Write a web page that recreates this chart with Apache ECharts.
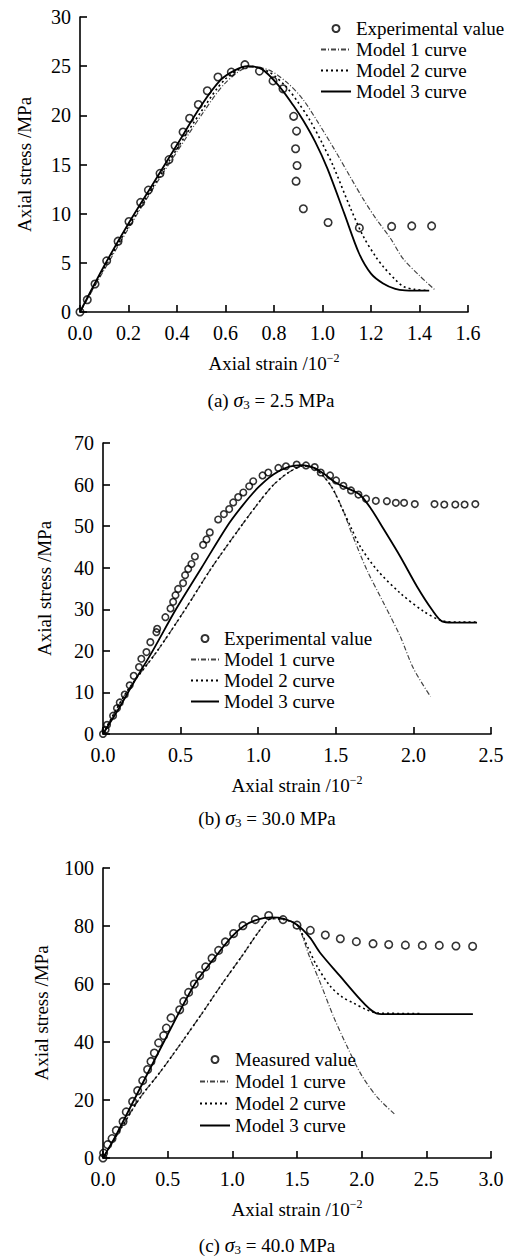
<!DOCTYPE html>
<html>
<head>
<meta charset="utf-8">
<script src="https://cdn.jsdelivr.net/npm/echarts@6/dist/echarts.min.js"></script>
<style>
  html, body { margin: 0; padding: 0; background: #fff; }
  #main { width: 512px; height: 1258px; }
</style>
</head>
<body>
<div id="main"></div>
<script>
// ---- (a) sigma3 = 2.5 MPa ----
const aExpX = [0, 0.03, 0.062, 0.11, 0.157, 0.202, 0.25, 0.282, 0.33, 0.367, 0.392, 0.425, 0.452, 0.488, 0.525, 0.569, 0.624, 0.68, 0.74, 0.796, 0.837, 0.881, 0.893, 0.889, 0.895, 0.891, 0.921, 1.023, 1.152, 1.285, 1.368, 1.45]
const aExpY = [0, 1.25, 2.85, 5.2, 7.2, 9.2, 11.15, 12.4, 14.1, 15.5, 16.9, 18.3, 19.7, 21.1, 22.5, 23.9, 24.4, 25.15, 24.5, 23.5, 22.7, 19.9, 18.4, 16.6, 14.9, 13.3, 10.5, 9.1, 8.55, 8.7, 8.75, 8.75]
const aM1X = [0, 0.1, 0.2, 0.3, 0.4, 0.5, 0.6, 0.7, 0.78, 0.86, 0.92, 0.976, 1.05, 1.113, 1.17, 1.223, 1.28, 1.333, 1.4, 1.464]
const aM1Y = [0, 4.3, 8.5, 12.5, 16.3, 20.0, 23.3, 24.9, 24.6, 23.2, 21.6, 19.5, 16.5, 13.8, 11.4, 9.4, 7.5, 5.4, 3.7, 2.24]
const aM2X = [0, 0.1, 0.2, 0.3, 0.4, 0.5, 0.6, 0.7, 0.78, 0.85, 0.9, 0.948, 1.0, 1.045, 1.113, 1.168, 1.22, 1.251, 1.3, 1.333, 1.38, 1.43]
const aM2Y = [0, 4.5, 8.7, 12.7, 16.6, 20.4, 23.7, 25.0, 24.4, 22.9, 21.3, 19.5, 17.1, 14.8, 10.7, 7.7, 5.6, 4.6, 3.3, 2.6, 2.3, 2.2]
const aM3X = [0, 0.1, 0.2, 0.3, 0.4, 0.5, 0.58, 0.64, 0.69, 0.75, 0.82, 0.88, 0.92, 0.97, 1.02, 1.09, 1.15, 1.2, 1.25, 1.3, 1.34, 1.44]
const aM3Y = [0, 4.7, 9.0, 13.0, 17.0, 21.0, 23.6, 24.6, 25.0, 24.7, 23.0, 21.0, 19.5, 17.3, 14.6, 10.0, 6.0, 3.9, 2.9, 2.35, 2.2, 2.17]

// ---- (b) sigma3 = 30.0 MPa ----
const bExpX = [0, 0.017, 0.026, 0.065, 0.09, 0.108, 0.14, 0.172, 0.198, 0.232, 0.247, 0.28, 0.305, 0.344, 0.349, 0.402, 0.435, 0.452, 0.467, 0.484, 0.516, 0.529, 0.549, 0.57, 0.592, 0.645, 0.667, 0.688, 0.742, 0.779, 0.813, 0.839, 0.871, 0.904, 0.942, 0.968, 1.028, 1.065, 1.13, 1.179, 1.248, 1.308, 1.364, 1.403, 1.463, 1.502, 1.549, 1.598, 1.646, 1.695, 1.758, 1.829, 1.887, 1.94, 2.009, 2.136, 2.199, 2.27, 2.33, 2.399]
const bExpY = [0, 1, 2.2, 4.4, 6.2, 7.6, 9.5, 11.7, 14, 16.1, 18.1, 19.7, 22.1, 24.5, 25.3, 28.1, 30.2, 31.8, 33.4, 34.9, 36.3, 38.2, 39.7, 40.9, 42.7, 45.5, 46.8, 48.5, 51.6, 52.9, 54.1, 55.7, 57, 58.1, 59.6, 60.8, 62.2, 62.9, 64, 64.4, 64.8, 64.6, 64.2, 62.9, 62.2, 61, 59.7, 58.6, 57.6, 56.6, 56.1, 56, 55.6, 55.6, 55.3, 55.3, 55.2, 55.2, 55.2, 55.3]
const bM1X = [0, 0.15, 0.35, 0.53, 0.70, 0.89, 1.0, 1.10, 1.2, 1.29, 1.35, 1.42, 1.48, 1.55, 1.6, 1.7, 1.808, 1.915, 2.0, 2.11]
const bM1Y = [0, 10, 20, 30, 40, 50, 55.5, 60, 63, 64.5, 64.2, 62.0, 59.0, 53.5, 48.5, 39.5, 31.5, 23.5, 15.8, 9.0]
const bM2X = [0, 0.15, 0.35, 0.53, 0.70, 0.89, 1.0, 1.10, 1.2, 1.29, 1.35, 1.42, 1.48, 1.55, 1.6, 1.657, 1.765, 1.915, 2.066, 2.18, 2.3, 2.41]
const bM2Y = [0, 10, 20, 30, 40, 50, 55.5, 60, 63, 64.5, 64.2, 62.0, 59.0, 53.5, 49.5, 45.1, 39.5, 33.9, 29.5, 27.3, 26.9, 26.9]
const bM3X = [0, 0.1, 0.2, 0.32, 0.47, 0.635, 0.8, 0.9, 1.0, 1.1, 1.2, 1.28, 1.36, 1.43, 1.506, 1.57, 1.657, 1.73, 1.808, 1.915, 2.023, 2.12, 2.185, 2.25, 2.41]
const bM3Y = [0, 6.0, 12.5, 20, 30, 40, 50, 55, 59.3, 62.5, 64.3, 64.7, 64.0, 62.4, 60.3, 59.2, 57.5, 54.0, 49.3, 42.7, 35.5, 29.9, 27.1, 26.8, 26.8]

// ---- (c) sigma3 = 40.0 MPa ----
const cExpX = [0, 0.005, 0.036, 0.07, 0.103, 0.155, 0.18, 0.229, 0.268, 0.307, 0.345, 0.371, 0.397, 0.43, 0.469, 0.49, 0.526, 0.593, 0.624, 0.662, 0.706, 0.747, 0.794, 0.843, 0.894, 0.946, 1.01, 1.082, 1.178, 1.281, 1.392, 1.5, 1.603, 1.719, 1.835, 1.959, 2.088, 2.209, 2.338, 2.469, 2.6, 2.729, 2.858]
const cExpY = [0, 1.7, 4.6, 6.7, 9.5, 12.6, 15.9, 19.5, 23.2, 26.7, 30.5, 33.3, 36.2, 39.7, 42.2, 44.8, 48.3, 51.1, 54, 57.1, 60, 62.9, 65.9, 68.9, 71.6, 74.5, 77.4, 80.1, 82.2, 83.6, 82.2, 80.3, 78.5, 76.9, 75.6, 74.6, 73.9, 73.6, 73.4, 73.3, 73.3, 73.1, 73]
const cM1X = [0, 0.15, 0.29, 0.44, 0.61, 0.76, 0.92, 1.08, 1.22, 1.3, 1.4, 1.5, 1.6, 1.681, 1.78, 1.887, 2.0, 2.12, 2.26]
const cM1Y = [0, 11, 21, 29.5, 40, 49.5, 60, 70, 79, 82.5, 82.2, 80.4, 69, 60.3, 49, 38.5, 28.5, 21, 14.9]
const cM2X = [0, 0.15, 0.29, 0.44, 0.61, 0.76, 0.92, 1.08, 1.22, 1.3, 1.4, 1.5, 1.58, 1.655, 1.758, 1.85, 1.938, 2.03, 2.119, 2.45]
const cM2Y = [0, 11, 21, 29.5, 40, 49.5, 60, 70, 79, 82.5, 82.2, 80.4, 73, 66.1, 59.2, 55.5, 53.4, 51.3, 50, 49.8]
const cM3X = [0, 0.1, 0.24, 0.47, 0.71, 0.88, 1.0, 1.09, 1.2, 1.3, 1.4, 1.5, 1.6, 1.68, 1.835, 1.99, 2.06, 2.12, 2.2, 2.86]
const cM3Y = [0, 7.8, 20, 40, 60, 70, 76.5, 80, 82.3, 83, 82.5, 80.4, 76, 70.7, 62.6, 54.6, 51.5, 49.8, 49.6, 49.6]

const font = 'Liberation Serif, Times New Roman, serif'
const zip = (xs, ys) => xs.map((x, i) => [x, ys[i]])

function setChart() {
  const chartDom = document.getElementById('main');
  const myChart = echarts.init(chartDom, null, {renderer: 'svg'});

  // one panel = one grid + its axes + 4 series
  const panels = [
    {grid: {left: 80, top: 17, width: 388, height: 295}, xMax: 1.6, xInt: 0.2, yMax: 30, yInt: 5, yGap: 44,
      expName: 'Experimental value', exp: zip(aExpX, aExpY), m1: zip(aM1X, aM1Y), m2: zip(aM2X, aM2Y), m3: zip(aM3X, aM3Y),
      legend: {left: 320, top: 19, itemWidth: 30, gap: 2}, caption: ['(a) ', '2.5', 271, 400]},
    {grid: {left: 103, top: 443, width: 388, height: 291}, xMax: 2.5, xInt: 0.5, yMax: 70, yInt: 10, yGap: 47,
      expName: 'Experimental value', exp: zip(bExpX, bExpY), m1: zip(bM1X, bM1Y), m2: zip(bM2X, bM2Y), m3: zip(bM3X, bM3Y),
      legend: {left: 190, top: 629, itemWidth: 28, gap: 2}, caption: ['(b) ', '30.0', 267, 818]},
    {grid: {left: 103, top: 868, width: 388, height: 290}, xMax: 3.0, xInt: 0.5, yMax: 100, yInt: 20, yGap: 47,
      expName: 'Measured value', exp: zip(cExpX, cExpY), m1: zip(cM1X, cM1Y), m2: zip(cM2X, cM2Y), m3: zip(cM3X, cM3Y),
      legend: {left: 199, top: 1050, itemWidth: 30, gap: 3}, caption: ['(c) ', '40.0', 267, 1245]},
  ]

  const axisLine = {lineStyle: {color: '#000', width: 1.6}}
  const axisTick = {inside: true, length: 7, lineStyle: {color: '#000', width: 1.6}}
  const nameStyle = {
    color: '#000', fontFamily: font, fontSize: 19, lineHeight: 24,
    rich: {sup: {fontFamily: font, fontSize: 12, lineHeight: 12, padding: [0, 0, 10, 0], color: '#000'}}
  }
  // hide the dot ECharts puts in the middle of a line legend icon
  const noDot = {color: 'rgba(0,0,0,0)', borderWidth: 0}

  const grid = [], xAxis = [], yAxis = [], series = [], legend = [], graphic = []

  panels.forEach((p, i) => {
    grid.push(p.grid)
    xAxis.push({
      type: 'value', gridIndex: i, min: 0, max: p.xMax, interval: p.xInt,
      name: 'Axial strain /10{sup|−2}', nameLocation: 'middle', nameGap: 39, nameTextStyle: nameStyle,
      axisLine: axisLine, axisTick: axisTick, splitLine: {show: false},
      axisLabel: {color: '#000', fontFamily: font, fontSize: 20, margin: 11, formatter: v => v.toFixed(1)}
    })
    yAxis.push({
      type: 'value', gridIndex: i, min: 0, max: p.yMax, interval: p.yInt,
      name: 'Axial stress /MPa', nameLocation: 'middle', nameGap: p.yGap, nameTextStyle: nameStyle,
      axisLine: {show: true, ...axisLine}, axisTick: {show: true, ...axisTick}, splitLine: {show: false},
      axisLabel: {color: '#000', fontFamily: font, fontSize: 20, margin: 9}
    })
    series.push({
      name: p.expName, type: 'scatter', xAxisIndex: i, yAxisIndex: i, data: p.exp, z: 5,
      symbol: 'circle', symbolSize: i === 1 ? 6.5 : 7.5,
      itemStyle: {color: 'rgba(255,255,255,0)', borderColor: '#000', borderWidth: 1.6}
    })
    series.push({
      name: 'Model 1 curve', type: 'line', xAxisIndex: i, yAxisIndex: i, data: p.m1, smooth: 0.3,
      symbol: 'none', itemStyle: noDot, lineStyle: {color: '#444', width: 1.2, type: [5, 2, 1, 2]}
    })
    series.push({
      name: 'Model 2 curve', type: 'line', xAxisIndex: i, yAxisIndex: i, data: p.m2, smooth: 0.3,
      symbol: 'none', itemStyle: noDot, lineStyle: {color: '#000', width: 1.6, type: [2, 3]}
    })
    series.push({
      name: 'Model 3 curve', type: 'line', xAxisIndex: i, yAxisIndex: i, data: p.m3, smooth: 0.3,
      symbol: 'none', itemStyle: noDot, lineStyle: {color: '#000', width: 1.8}
    })
    legend.push({
      orient: 'vertical', left: p.legend.left, top: p.legend.top, itemWidth: p.legend.itemWidth, itemHeight: 7,
      itemGap: p.legend.gap, selectedMode: false, padding: 0,
      data: [p.expName, 'Model 1 curve', 'Model 2 curve', 'Model 3 curve'],
      textStyle: {color: '#000', fontFamily: font, fontSize: 19}
    })
    graphic.push({
      type: 'text', x: p.caption[2], y: p.caption[3],
      style: {
        text: p.caption[0] + '{i|σ}{s|3} = ' + p.caption[1] + ' MPa',
        fill: '#000', font: '19px ' + font, align: 'center', verticalAlign: 'middle', lineHeight: 20,
        rich: {
          i: {fontFamily: font, fontSize: 20, fontStyle: 'italic', lineHeight: 20},
          s: {fontFamily: font, fontSize: 13, lineHeight: 12, padding: [8, 0, 0, 0]}
        }
      }
    })
  })

  const option = {
    backgroundColor: '#fff',
    animation: false,
    grid, xAxis, yAxis, series, legend, graphic
  };

  myChart.setOption(option);
}

setChart()
</script>
</body>
</html>
